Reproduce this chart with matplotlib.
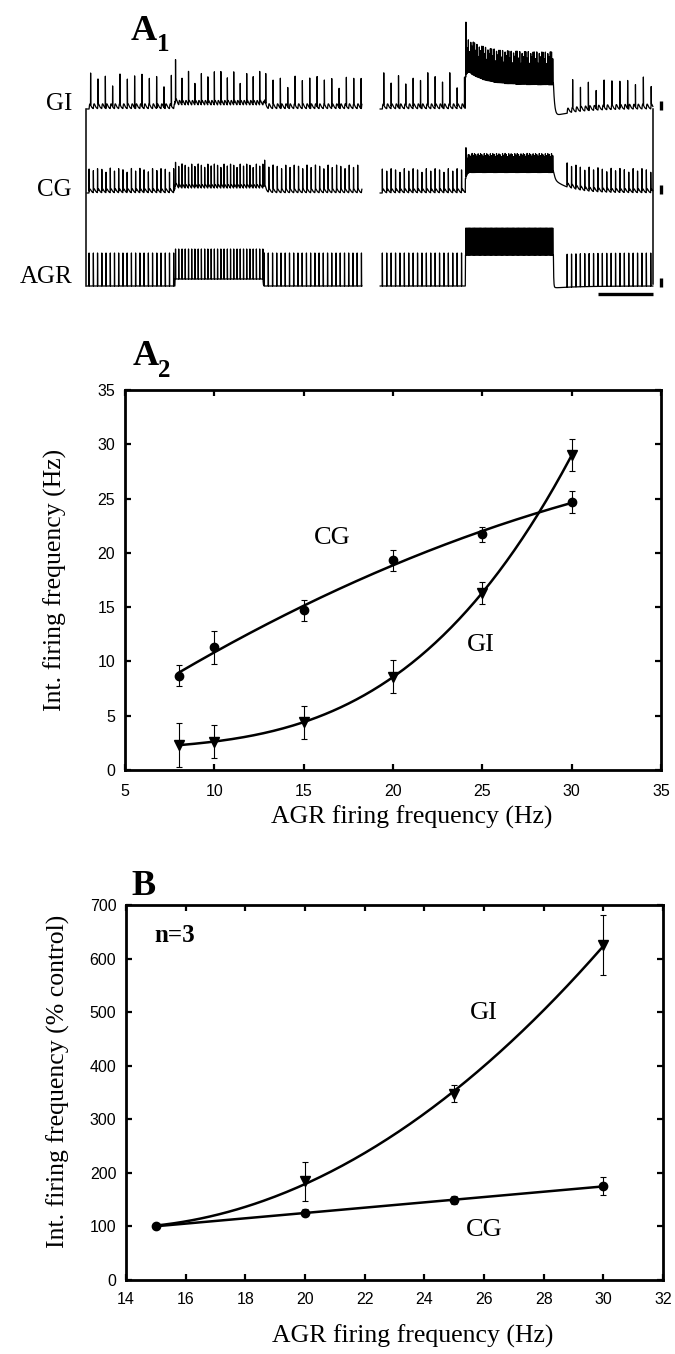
import numpy as np
import matplotlib.pyplot as plt

plt.rcParams['font.family'] = ['Liberation Serif', 'DejaVu Serif']

# ---------------- data ----------------
# A2: integrated firing frequency vs AGR firing frequency (Hz)
a2_agr = [8, 10, 15, 20, 25, 30]
a2_cg = [8.7, 11.3, 14.7, 19.3, 21.7, 24.7]
a2_cg_err = [1.0, 1.5, 1.0, 1.0, 0.7, 1.0]
a2_gi = [2.3, 2.6, 4.4, 8.6, 16.3, 29.0]
a2_gi_err = [2.0, 1.5, 1.5, 1.5, 1.0, 1.5]

# B: % of control (n=3)
b_agr = [15, 20, 25, 30]
b_cg = [100, 126, 149, 175]
b_cg_err = [0, 6, 7, 17]
b_gi = [100, 184, 348, 625]
b_gi_err = [0, 37, 16, 56]

a2_xticks = [5, 10, 15, 20, 25, 30, 35]
a2_yticks = [0, 5, 10, 15, 20, 25, 30, 35]
b_xticks = [14, 16, 18, 20, 22, 24, 26, 28, 30, 32]
b_yticks = [0, 100, 200, 300, 400, 500, 600, 700]

# A1: two sweeps (s), each = control / AGR stimulation / after
sweep_start = [0.0, 5.33]
sweep_len = [5.0, 4.96]
stim_on = [1.6, 1.55]
stim_off = [3.2, 3.15]
# per sweep, per epoch (control, stim, after)
agr_rate = [(13, 17, 13), (12.5, 45, 12.5)]
agr_amp = [(33, 30, 33), (33, 27, 33)]
agr_shift = [(0, 7, 0), (0, 31, 0)]
agr_pause = [0.02, 0.25]
cg_rate = [(13, 17, 13), (12.5, 45, 12.5)]
cg_amp = [(24, 24, 24), (24, 19, 24)]
cg_shift = [(0, 4, 0), (0, 14, 0)]
gi_rate = [(7.5, 8.5, 7.5), (7.5, 45, 7)]
gi_amp = [(32, 33, 30), (32, 33, 28)]
gi_shift = [(0, 3, 0), (0, 32, 0)]
cg_heights = [1.0, 0.9, 1.0, 0.95, 0.85]
gi_heights = [1.0, 0.8, 1.0, 0.65, 0.95, 0.85, 1.0]

DT = 0.002
W, H = 675, 1354


def spike_parts(i, rates, pause):
    on, off, end = stim_on[i], stim_off[i], sweep_len[i]
    return [np.arange(0.5 / rates[0], on, 1 / rates[0]),
            np.arange(on + 0.01, off, 1 / rates[1]),
            np.arange(off + pause, end - 0.01, 1 / rates[2])]


def trace(i, rates, amps, shifts, heights=(1.0,), boost=0.0, tau_off=0.01,
          dip=0.0, sag=0.0, epsp=0.0, pause=0.03):
    t = np.arange(0, sweep_len[i], DT)
    on, off = stim_on[i], stim_off[i]
    v = np.zeros_like(t)
    stim = (t >= on) & (t < off)
    v[stim] = shifts[1] * ((1 - sag) + sag * np.exp(-(t[stim] - on) / 0.3))
    after = t >= off
    s = t[after] - off
    last = shifts[1] * (1 - sag * (1 - np.exp(-(off - on) / 0.3)))
    v[after] = (last * np.exp(-s / tau_off)
                + dip * (1 - np.exp(-s / 0.02)) * np.exp(-s / 0.5))
    if epsp:
        for ts in np.concatenate(spike_parts(i, agr_rate[i], agr_pause[i])):
            d = t - ts
            m = d > 0
            v[m] += epsp * (d[m] / 0.015) * np.exp(1 - d[m] / 0.015)
    for k, part in enumerate(spike_parts(i, rates, pause)):
        for n, ts in enumerate(part):
            j = int(round(ts / DT))
            a = amps[k] * heights[n % len(heights)]
            if k == 1 and n == 0:
                a += boost
            v[j] += a
            if j + 1 < len(v):
                v[j + 1] += 0.3 * a
    return t, v


fig = plt.figure(figsize=(W / 100, H / 100), dpi=100)


def box(x0, y0, x1, y1):
    return [x0 / W, 1 - y1 / H, (x1 - x0) / W, (y1 - y0) / H]


def ftext(x, y, s, **kw):
    fig.text(x / W, 1 - y / H, s, **kw)


# ---------------- A1 traces ----------------
ax1 = fig.add_axes(box(80, 20, 670, 300))
ax1.set_xlim(-0.127, 10.6)
ax1.set_ylim(0, 280)
ax1.axis('off')
base = {'AGR': 14, 'CG': 107, 'GI': 191}
lw_tr = 0.9
for i in range(2):
    t, v = trace(i, agr_rate[i], agr_amp[i], agr_shift[i], tau_off=0.005,
                 dip=-2 * i, pause=agr_pause[i])
    ax1.plot(t + sweep_start[i], v + base['AGR'], color='k', lw=lw_tr)
    t, v = trace(i, cg_rate[i], cg_amp[i], cg_shift[i], heights=cg_heights,
                 boost=12 * i, tau_off=(0.05, 0.3)[i], epsp=4,
                 pause=(0.03, 0.25)[i])
    ax1.plot(t + sweep_start[i], v + base['CG'], color='k', lw=lw_tr)
    t, v = trace(i, gi_rate[i], gi_amp[i], gi_shift[i], heights=gi_heights,
                 boost=(10, 22)[i], tau_off=0.02, dip=-7 * i, sag=0.5 * i,
                 epsp=5, pause=(0.05, 0.35)[i])
    ax1.plot(t + sweep_start[i], v + base['GI'], color='k', lw=lw_tr)

t_end = sweep_start[1] + sweep_len[1]
ax1.plot([sweep_start[0] - 0.02] * 2, [base['AGR'], base['GI']], color='k', lw=1.1)
ax1.plot([t_end] * 2, [base['AGR'] + 2, base['GI']], color='k', lw=1.1)
for name in base:
    ax1.plot([t_end + 0.15] * 2, [base[name] - 1, base[name] + 8], color='k',
             lw=2.4, solid_capstyle='butt')
ax1.plot([t_end - 1.0, t_end], [6, 6], color='k', lw=2.4, solid_capstyle='butt')

ftext(72, 104, 'GI', fontsize=18, ha='right', va='center')
ftext(72, 190, 'CG', fontsize=18, ha='right', va='center')
ftext(72, 277, 'AGR', fontsize=18, ha='right', va='center')


def style(ax, xticks, yticks, xpad, ypad):
    for sp in ax.spines.values():
        sp.set_linewidth(2.0)
    ax.set_xticks(xticks, [str(v) for v in xticks], fontfamily='Liberation Sans',
                  fontsize=11.5)
    ax.set_yticks(yticks, [str(v) for v in yticks], fontfamily='Liberation Sans',
                  fontsize=11.5)
    ax.tick_params(direction='in', length=4.5, width=1.6, top=True, right=True)
    ax.tick_params(axis='x', pad=xpad)
    ax.tick_params(axis='y', pad=ypad)


# ---------------- A2 ----------------
ax2 = fig.add_axes(box(125, 390, 661, 770))
xs = np.linspace(min(a2_agr), max(a2_agr), 200)
ax2.plot(xs, np.polyval(np.polyfit(a2_agr, a2_cg, 2), xs), color='k', lw=1.8)
ax2.plot(xs, np.polyval(np.polyfit(a2_agr, a2_gi, 3), xs), color='k', lw=1.8)
ax2.errorbar(a2_agr, a2_cg, yerr=a2_cg_err, fmt='none', ecolor='k',
             elinewidth=0.8, capsize=2.5, capthick=0.8)
ax2.errorbar(a2_agr, a2_gi, yerr=a2_gi_err, fmt='none', ecolor='k',
             elinewidth=0.8, capsize=2.5, capthick=0.8)
ax2.plot(a2_agr, a2_cg, 'o', color='k', ms=6)
ax2.plot(a2_agr, a2_gi, 'v', color='k', ms=6.5)
ax2.set_xlim(5, 35)
ax2.set_ylim(0, 35)
style(ax2, a2_xticks, a2_yticks, 10, 7)
ax2.text(16.6, 21.4, 'CG', fontsize=19, ha='center', va='center')
ax2.text(24.9, 11.5, 'GI', fontsize=19, ha='center', va='center')
ax2.set_xlabel('AGR firing frequency (Hz)', fontsize=18.5, va='center')
ax2.xaxis.set_label_coords(0.534, -0.124)
ax2.set_ylabel('Int. firing frequency (Hz)', fontsize=18.5, va='center',
               ha='center')
ax2.yaxis.set_label_coords(-0.13, 0.5)

# ---------------- B ----------------
ax3 = fig.add_axes(box(126, 905, 663, 1280))
xs = np.linspace(min(b_agr), max(b_agr), 200)
ax3.plot(xs, np.polyval(np.polyfit(b_agr, b_cg, 2), xs), color='k', lw=1.8)
ax3.plot(xs, np.polyval(np.polyfit(b_agr, b_gi, 2), xs), color='k', lw=1.8)
ax3.errorbar(b_agr, b_cg, yerr=b_cg_err, fmt='none', ecolor='k',
             elinewidth=0.8, capsize=2.5, capthick=0.8)
ax3.errorbar(b_agr, b_gi, yerr=b_gi_err, fmt='none', ecolor='k',
             elinewidth=0.8, capsize=2.5, capthick=0.8)
ax3.plot(b_agr, b_cg, 'o', color='k', ms=6)
ax3.plot(b_agr[1:], b_gi[1:], 'v', color='k', ms=6.5)
ax3.set_xlim(14, 32)
ax3.set_ylim(0, 700)
style(ax3, b_xticks, b_yticks, 9, 7)
ax3.text(14.94, 631, 'n=3', fontsize=18, fontweight='bold', ha='left',
         va='baseline')
ax3.text(26.0, 498, 'GI', fontsize=19, ha='center', va='center')
ax3.text(26.0, 93, 'CG', fontsize=19, ha='center', va='center')
ax3.set_xlabel('AGR firing frequency (Hz)', fontsize=18.5, va='center')
ax3.xaxis.set_label_coords(0.533, -0.15)
ax3.set_ylabel('Int. firing frequency (% control)', fontsize=18.5, va='center',
               ha='center')
ax3.yaxis.set_label_coords(-0.127, 0.53)

# panel labels
ftext(131, 40, 'A', fontsize=26, fontweight='bold', va='baseline')
ftext(157, 51, '1', fontsize=18, fontweight='bold', va='baseline')
ftext(133, 365, 'A', fontsize=26, fontweight='bold', va='baseline')
ftext(158, 377, '2', fontsize=18, fontweight='bold', va='baseline')
ftext(131, 895, 'B', fontsize=26, fontweight='bold', va='baseline')

fig.savefig('out.png', dpi=100)
plt.close(fig)
